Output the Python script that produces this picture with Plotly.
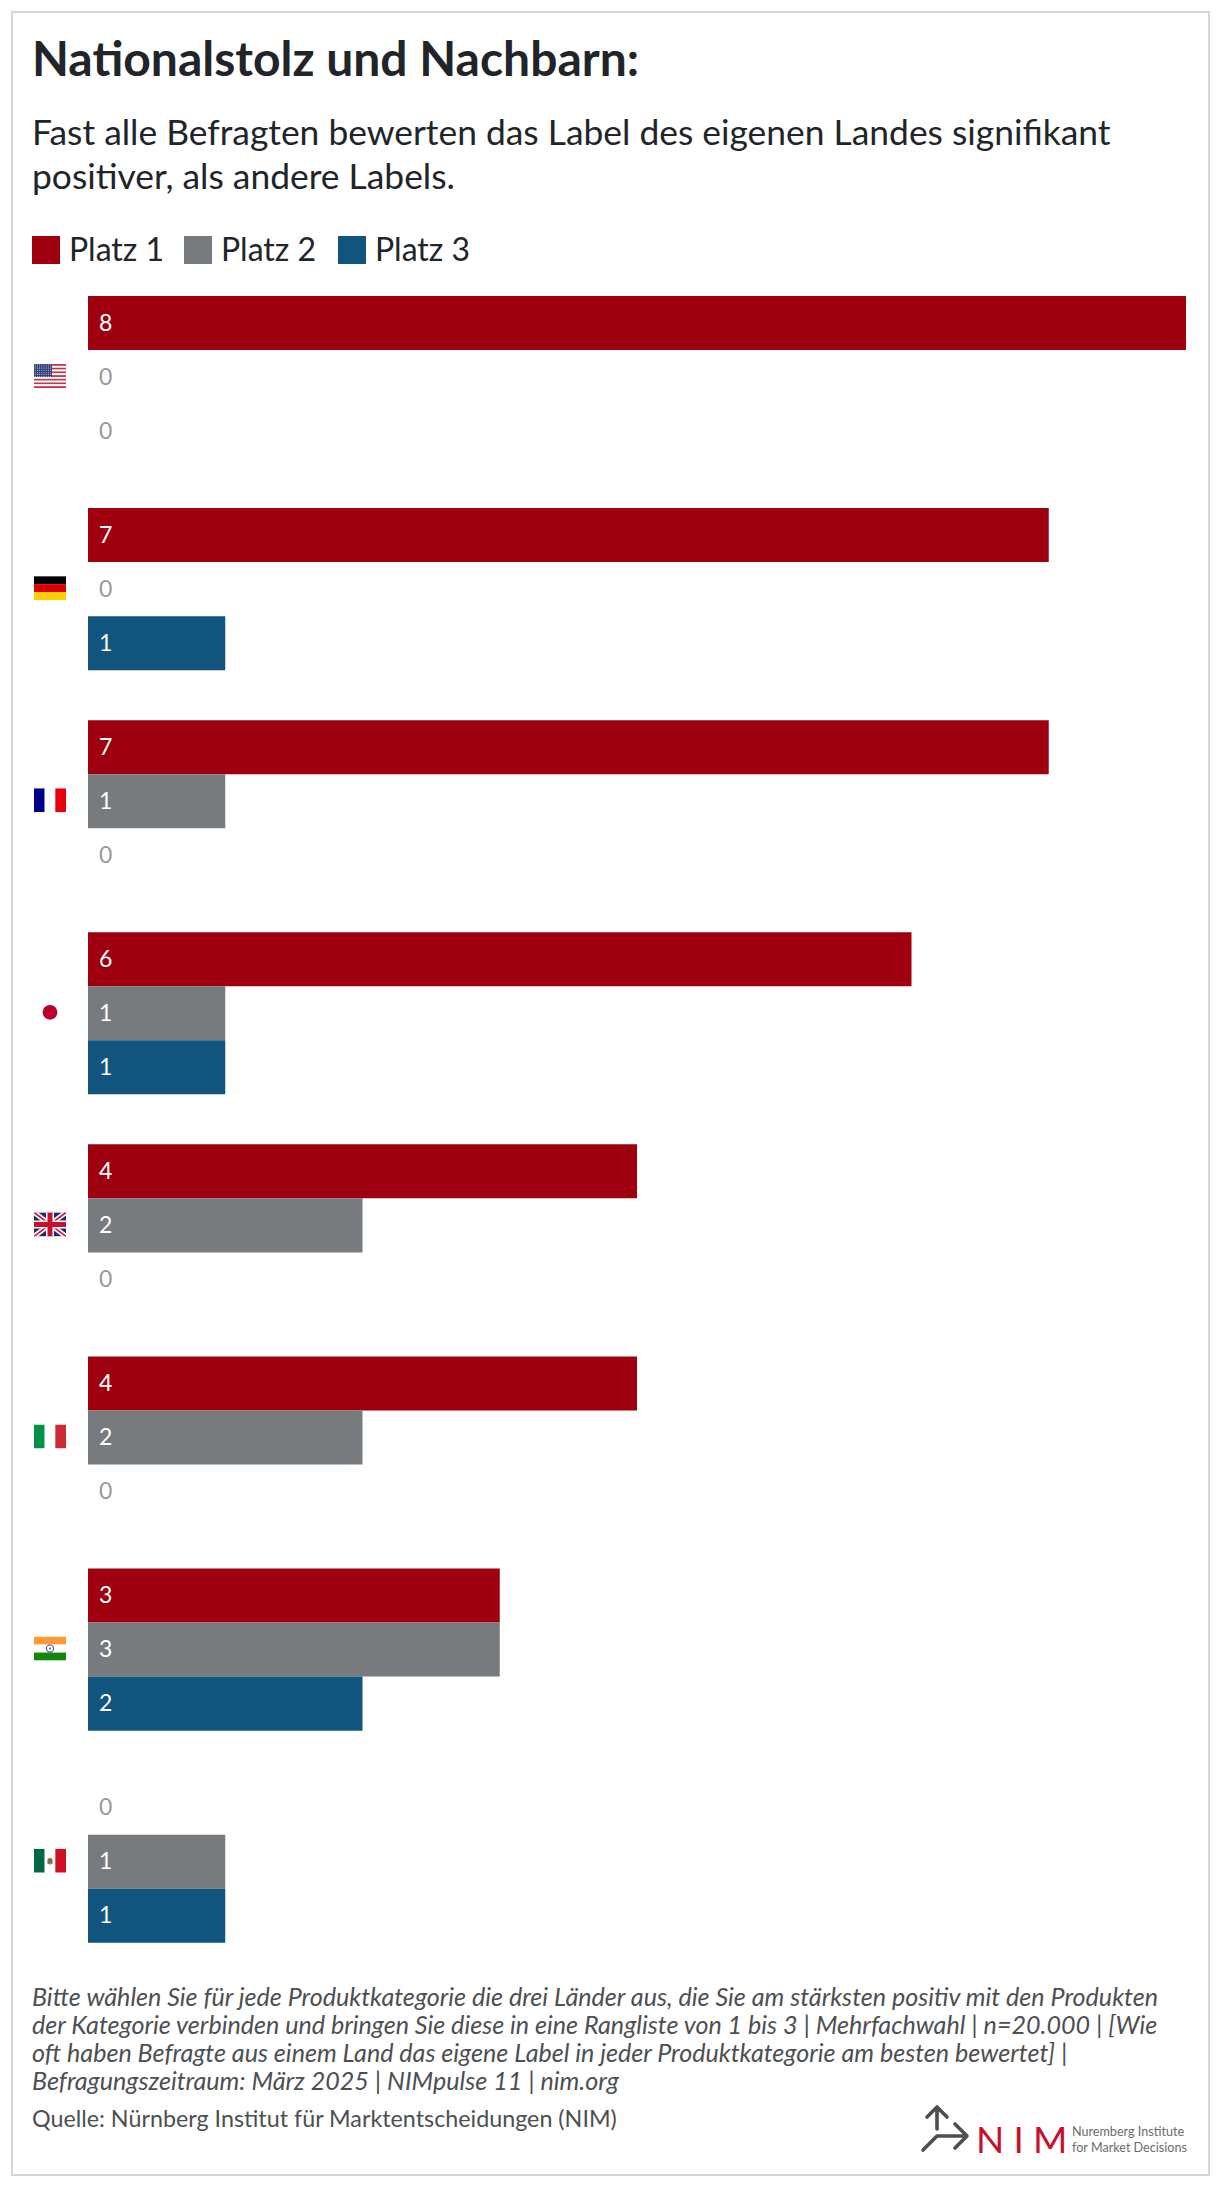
import base64
import plotly.graph_objects as go

countries = ["USA", "Deutschland", "Frankreich", "Japan", "Großbritannien", "Italien", "Indien", "Mexiko"]
series_names = ["Platz 1", "Platz 2", "Platz 3"]
platz1 = [8, 7, 7, 6, 4, 4, 3, 0]
platz2 = [0, 0, 1, 1, 2, 2, 3, 1]
platz3 = [0, 1, 0, 1, 0, 0, 2, 1]
colors = ["#9e0010", "#777b7d", "#11557f"]

title = "Nationalstolz und Nachbarn:"
subtitle = ["Fast alle Befragten bewerten das Label des eigenen Landes signifikant",
            "positiver, als andere Labels."]
notes = ["Bitte wählen Sie für jede Produktkategorie die drei Länder aus, die Sie am stärksten positiv mit den Produkten",
         "der Kategorie verbinden und bringen Sie diese in eine Rangliste von 1 bis 3 | Mehrfachwahl | n=20.000 | [Wie",
         "oft haben Befragte aus einem Land das eigene Label in jeder Produktkategorie am besten bewertet] |",
         "Befragungszeitraum: März 2025 | NIMpulse 11 | nim.org"]
source = "Quelle: Nürnberg Institut für Marktentscheidungen (NIM)"

W, H = 1220, 2188
FONT = "Lato"
INK = "#212529"
NOTE = "#4d4f52"

def px(x): return x / W
def py(y): return 1 - y / H

def stripes_h(cols):
    n = len(cols)
    return "".join(f'<rect x="0" y="{i*24/n}" width="32" height="{24/n+0.05}" fill="{c}"/>' for i, c in enumerate(cols))

def stripes_v(cols):
    n = len(cols)
    return "".join(f'<rect x="{i*32/n}" y="0" width="{32/n+0.05}" height="24" fill="{c}"/>' for i, c in enumerate(cols))

us = stripes_h(["#c0394a" if i % 2 == 0 else "#ffffff" for i in range(13)]) + '<rect width="18" height="13" fill="#2f3f78"/>' + "".join(
    f'<circle cx="{1.2+2.2*i}" cy="{1+1.9*j}" r="0.5" fill="#dfe3f0"/>' for i in range(8) for j in range(7))
uk = ('<rect width="32" height="24" fill="#1f2a6b"/>'
      '<path d="M0 0L32 24M32 0L0 24" stroke="#fff" stroke-width="5"/>'
      '<path d="M0 0L32 24M32 0L0 24" stroke="#c8102e" stroke-width="1.6"/>'
      '<path d="M16 0V24M0 12H32" stroke="#fff" stroke-width="8"/>'
      '<path d="M16 0V24M0 12H32" stroke="#c8102e" stroke-width="5"/>')
flags = [
    us,
    stripes_h(["#000000", "#dd0000", "#ffce00"]),
    stripes_v(["#000088", "#ffffff", "#e8000f"]),
    '<circle cx="16" cy="12" r="7.4" fill="#bc002d"/>',
    uk,
    stripes_v(["#009246", "#ffffff", "#ce2b37"]),
    stripes_h(["#ff9933", "#ffffff", "#138808"]) + '<circle cx="16" cy="12" r="3.6" fill="none" stroke="#4a4fb0" stroke-width="1.1"/><circle cx="16" cy="12" r="1" fill="#4a4fb0"/>',
    stripes_v(["#006847", "#ffffff", "#ce1126"]) + '<circle cx="16" cy="12" r="2.6" fill="#8a6a3a"/><path d="M13 14Q16 17 19 14" stroke="#3a7a4a" fill="none"/>',
]

def svg_uri(body, w=32, h=24):
    svg = f'<svg xmlns="http://www.w3.org/2000/svg" width="{w}" height="{h}" viewBox="0 0 {w} {h}">{body}</svg>'
    return "data:image/svg+xml;base64," + base64.b64encode(svg.encode()).decode()

fig = go.Figure()
for name, vals, col in zip(series_names, [platz1, platz2, platz3], colors):
    fig.add_bar(y=countries, x=vals, name=name, orientation="h", marker=dict(color=col, line_width=0), showlegend=False)

ann = []
def text(x, y, s, size, color=INK, anchor="left", **kw):
    ann.append(dict(xref="paper", yref="paper", x=px(x), y=py(y), text=s, showarrow=False, xanchor=anchor, yanchor="middle",
                    align="left", font=dict(family=kw.pop("family", FONT), size=size, color=color), **kw))

text(30, 58, f"<b>{title}</b>", 48)
for i, s in enumerate(subtitle):
    text(30, 131 + i * 44.5, s, 35.4)

shapes = [dict(type="rect", xref="paper", yref="paper", x0=px(12), x1=px(1209), y0=py(12), y1=py(2175),
               line=dict(color="#d6d6d6", width=2), fillcolor="rgba(0,0,0,0)", layer="below")]
for x0, name, col in zip([32, 184, 338], series_names, colors):
    shapes.append(dict(type="rect", xref="paper", yref="paper", x0=px(x0), x1=px(x0 + 28), y0=py(236), y1=py(264),
                       fillcolor=col, line_width=0))
    text(x0 + 35, 249, name, 32)

# data labels from the series values
for vals, shift in zip([platz1, platz2, platz3], [54, 0, -54]):
    for c, v in zip(countries, vals):
        ann.append(dict(xref="x", yref="y", x=0, y=c, text=str(v), showarrow=False, xanchor="left", yanchor="middle",
                        xshift=8.5, yshift=shift + 1.5, font=dict(family=FONT, size=23, color="#ffffff" if v else "#9a9a9a")))

for i, s in enumerate(notes):
    text(30, 1996 + i * 28, f"<i>{s}</i>", 25.1, NOTE)
text(30, 2118, source, 23.3, NOTE)

# logo
text(974, 2138, "N\u2005I\u2005M", 37, "#c8102e", family="Lato")
text(1070, 2131, "Nuremberg Institute", 12.6, "#6a6d70")
text(1070, 2147, "for Market Decisions", 12.6, "#6a6d70")
logo = ('<g fill="none" stroke="#4b4e52" stroke-width="3.6" stroke-linecap="round" stroke-linejoin="round">'
        '<path d="M17 3V25M7 13L17 3L27 13"/><path d="M3 46L17 32H47M35 20L47 32L35 44"/></g>')

images = [dict(source=svg_uri(logo, 50, 50), xref="paper", yref="paper", x=px(920), y=py(2104), sizex=50 / W, sizey=50 / H,
               xanchor="left", yanchor="top", sizing="stretch", layer="above")]
for i, body in enumerate(flags):
    images.append(dict(source=svg_uri(body), xref="paper", yref="y", x=px(34), y=i - 1 / 212.2, sizex=32 / W, sizey=24 / 212.2,
                       xanchor="left", yanchor="middle", sizing="stretch", layer="above"))

fig.update_layout(
    width=W, height=H, margin=dict(l=0, r=0, t=0, b=0, pad=0), paper_bgcolor="#ffffff", plot_bgcolor="#ffffff",
    barmode="group", bargap=50 / 212.2, bargroupgap=0, showlegend=False,
    font=dict(family=FONT), annotations=ann, shapes=shapes, images=images,
    xaxis=dict(domain=[px(88), px(1186)], range=[0, 8], visible=False),
    yaxis=dict(domain=[py(1967.7), py(271)], type="category", categoryorder="array", categoryarray=countries,
               range=[7.5, -0.5], visible=False),
)
fig.write_html("out.html", config={"displayModeBar": False},
               post_script="document.body.style.margin='0';document.documentElement.style.overflow='hidden';")
